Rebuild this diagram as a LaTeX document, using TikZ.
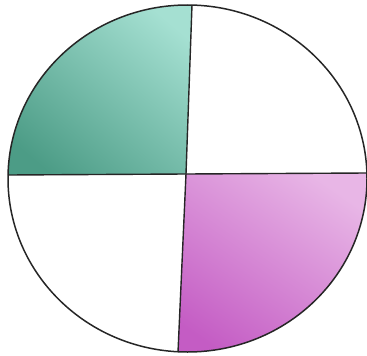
\documentclass[tikz,border=0pt]{standalone}
\usepackage{tikz}
\definecolor{tealdark}{RGB}{76,156,134}
\definecolor{teallight}{RGB}{165,224,210}
\definecolor{plumdark}{RGB}{196,92,196}
\definecolor{plumlight}{RGB}{232,182,230}

\begin{document}
\begin{tikzpicture}[
  x=1pt, y=-1pt,
  rim/.style={draw=black!85, line width=1.5pt},
  cut/.style={draw=black!85, line width=1.4pt}
]
\useasboundingbox (0,0) rectangle (367,356);
\coordinate (o) at (186,174);
\coordinate (top) at (192,5);
\coordinate (bot) at (178,352);
\coordinate (lft) at (8,175);
\coordinate (rgt) at (367,173);

% shaded quarters, clipped to the disc
\begin{scope}
  \clip (187.5,178.5) ellipse [x radius=179.5, y radius=173.5];
  \shade[top color=teallight, bottom color=tealdark, shading angle=-40]
    (o) -- (lft) -- (-10,175) -- (-10,-10) -- (193,-10) -- (top) -- cycle;
  \shade[top color=plumlight, bottom color=plumdark, shading angle=-35]
    (o) -- (rgt) -- (380,173) -- (380,370) -- (177,370) -- (bot) -- cycle;
\end{scope}

\draw[rim] (187.5,178.5) ellipse [x radius=179.5, y radius=173.5];
\draw[cut] (top) -- (o) -- (bot);
\draw[cut] (lft) -- (o) -- (rgt);
\end{tikzpicture}
\end{document}
